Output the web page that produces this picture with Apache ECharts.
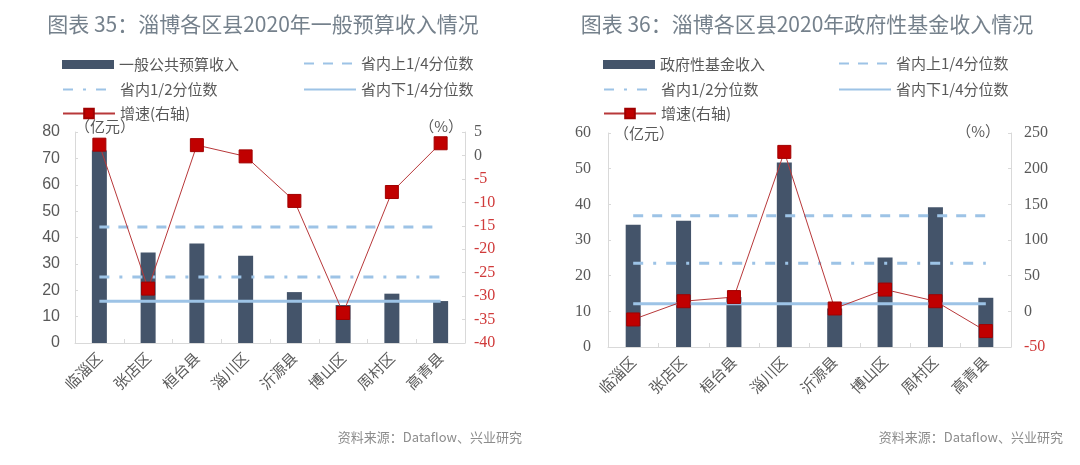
<!DOCTYPE html>
<html><head><meta charset="utf-8">
<script src="https://cdn.jsdelivr.net/npm/echarts@6/dist/echarts.min.js"></script>
<style>html,body{margin:0;padding:0;background:#fff}#c{width:1080px;height:465px}</style>
</head><body><div id="c"></div>
<script>
const categories = ['临淄区','张店区','桓台县','淄川区','沂源县','博山区','周村区','高青县'];
// Chart 35: general budget revenue (亿元) and growth (%)
const budgetIncome = [73, 34.3, 37.7, 33.1, 19.3, 14.4, 18.7, 15.9];
const budgetGrowth = [2.3, -28.4, 2.2, -0.2, -9.7, -33.6, -7.8, 2.6];
const budgetUpperQ = 44;
const budgetMedian = 25;
const budgetLowerQ = 15.8;
// Chart 36: government fund revenue (亿元) and growth (%)
const fundIncome = [34.3, 35.4, 14, 51.7, 10.8, 25.1, 39.2, 13.8];
const fundGrowth = [-11.4, 14.2, 20, 223.5, 4, 30.5, 14.2, -27.7];
const fundUpperQ = 36.8;
const fundMedian = 23.5;
const fundLowerQ = 12.1;
// tick settings
const leftTicks1 = {min: 0, max: 80, interval: 10};
const rightTicks1 = {min: -40, max: 5, interval: 5};
const leftTicks2 = {min: 0, max: 60, interval: 10};
const rightTicks2 = {min: -50, max: 250, interval: 50};

const names = {
  bar1: '一般公共预算收入', bar2: '政府性基金收入',
  up: '省内上1/4分位数', med: '省内1/2分位数', low: '省内下1/4分位数', gr: '增速(右轴)'
};

const GRAY = '#595959', AXIS = '#d9d9d9', BAR = '#44546a', QLINE = '#9dc3e6', RED = '#c00000';
const CJK = '"Noto Sans CJK SC", sans-serif';
const SERIF = '"Liberation Serif", "DejaVu Serif", serif';

const chart = echarts.init(document.getElementById('c'), null, {renderer: 'canvas'});
const rep = (v) => categories.map(() => v);

function xAxis(gi) {
  return {
    type: 'category', gridIndex: gi, data: categories, boundaryGap: true,
    axisLine: {show: true, lineStyle: {color: AXIS, width: 1}},
    axisTick: {show: true, inside: true, length: 4, interval: 0, lineStyle: {color: AXIS}},
    axisLabel: {rotate: 45, interval: 0, margin: 12, color: GRAY, fontSize: 15, fontFamily: CJK},
    splitLine: {show: false}
  };
}
function yAxis(gi, t, pos, margin, font, colored) {
  return {
    type: 'value', gridIndex: gi, position: pos, min: t.min, max: t.max, interval: t.interval,
    axisLine: {show: true, lineStyle: {color: AXIS, width: 1}},
    axisTick: {show: true, inside: true, length: 3, lineStyle: {color: AXIS}},
    splitLine: {show: false},
    axisLabel: {
      margin: margin, fontSize: 16, fontFamily: font, color: GRAY,
      formatter: colored ? (v) => (v < 0 ? '{n|' + v + '}' : '{p|' + v + '}') : undefined,
      rich: colored ? {n: {color: '#d03a3a', fontSize: 16, fontFamily: font}, p: {color: GRAY, fontSize: 16, fontFamily: font}} : undefined
    }
  };
}

function qLine(name, val, xi, yi, type) {
  return {
    name: name, type: 'line', xAxisIndex: xi, yAxisIndex: yi, data: rep(val),
    symbol: 'none', silent: true, z: 3,
    itemStyle: {color: QLINE},
    lineStyle: {color: QLINE, width: 3, type: type}
  };
}

function legendItem(name, left, top, opts) {
  return Object.assign({
    data: [name], left: left, top: top, itemWidth: 52, itemHeight: 12, itemGap: 6,
    textStyle: {color: GRAY, fontSize: 15, fontFamily: CJK}, selectedMode: false
  }, opts || {});
}
const hideSym = {itemStyle: {color: 'rgba(0,0,0,0)', borderWidth: 0, opacity: 0}};

const dashUp = [10, 9];
const dashMed = [10, 10, 3, 10];

const option = {
  animation: false,
  backgroundColor: '#fff',
  title: [
    {text: '图表 35：淄博各区县2020年一般预算收入情况', left: 258, top: 9, textAlign: 'center',
     textStyle: {color: '#75818c', fontSize: 21, fontWeight: 'normal', fontFamily: CJK}},
    {text: '图表 36：淄博各区县2020年政府性基金收入情况', left: 802, top: 9, textAlign: 'center',
     textStyle: {color: '#75818c', fontSize: 21, fontWeight: 'normal', fontFamily: CJK}}
  ],
  legend: [
    legendItem(names.bar1, 57, 52, {itemHeight: 9, icon: 'rect'}),
    legendItem(names.up, 298, 51, hideSym),
    legendItem(names.med, 57, 77, hideSym),
    legendItem(names.low, 298, 77, hideSym),
    legendItem(names.gr, 57, 101),
    legendItem(names.bar2, 598, 52, {itemHeight: 9, icon: 'rect'}),
    legendItem(names.up, 833, 51, hideSym),
    legendItem(names.med, 598, 77, hideSym),
    legendItem(names.low, 833, 77, hideSym),
    legendItem(names.gr, 598, 101)
  ],
  grid: [
    {left: 75, top: 132, width: 390, height: 211},
    {left: 608, top: 133, width: 403, height: 214}
  ],
  xAxis: [xAxis(0), xAxis(1)],
  yAxis: [
    yAxis(0, leftTicks1, 'left', 15, '"Liberation Sans", sans-serif', false),
    yAxis(0, rightTicks1, 'right', 9, SERIF, true),
    yAxis(1, leftTicks2, 'left', 17, SERIF, false),
    yAxis(1, rightTicks2, 'right', 13, SERIF, true)
  ],
  series: [
    {name: names.bar1, type: 'bar', xAxisIndex: 0, yAxisIndex: 0, data: budgetIncome, barWidth: 15,
     itemStyle: {color: BAR}, z: 2},
    qLine(names.up, budgetUpperQ, 0, 0, dashUp),
    qLine(names.med, budgetMedian, 0, 0, dashMed),
    qLine(names.low, budgetLowerQ, 0, 0, 'solid'),
    {name: names.gr, type: 'line', xAxisIndex: 0, yAxisIndex: 1, data: budgetGrowth,
     symbol: 'rect', symbolSize: 13, z: 5,
     lineStyle: {color: '#b8383a', width: 1},
     itemStyle: {color: RED, borderColor: '#a00000', borderWidth: 1}},

    {name: names.bar2, type: 'bar', xAxisIndex: 1, yAxisIndex: 2, data: fundIncome, barWidth: 15,
     itemStyle: {color: BAR}, z: 2},
    qLine(names.up, fundUpperQ, 1, 2, dashUp),
    qLine(names.med, fundMedian, 1, 2, dashMed),
    qLine(names.low, fundLowerQ, 1, 2, 'solid'),
    {name: names.gr, type: 'line', xAxisIndex: 1, yAxisIndex: 3, data: fundGrowth,
     symbol: 'rect', symbolSize: 13, z: 5,
     lineStyle: {color: '#b8383a', width: 1},
     itemStyle: {color: RED, borderColor: '#a00000', borderWidth: 1}}
  ],
  graphic: [
    {type: 'text', left: 75, top: 119, style: {text: '（亿元）', fill: GRAY, font: '15px ' + CJK}},
    {type: 'text', right: 1080 - 463, top: 119, style: {text: '（%）', fill: GRAY, font: '15px ' + CJK}},
    {type: 'text', left: 614, top: 126, style: {text: '（亿元）', fill: GRAY, font: '15px ' + CJK}},
    {type: 'text', right: 1080 - 1000, top: 124, style: {text: '（%）', fill: GRAY, font: '15px ' + CJK}},
    {type: 'text', right: 1080 - 522, top: 431, style: {text: '资料来源：Dataflow、兴业研究', fill: '#8c8c8c', font: '13px ' + CJK}},
    {type: 'text', right: 1080 - 1063, top: 431, style: {text: '资料来源：Dataflow、兴业研究', fill: '#8c8c8c', font: '13px ' + CJK}}
  ]
};
chart.setOption(option);
</script></body></html>
